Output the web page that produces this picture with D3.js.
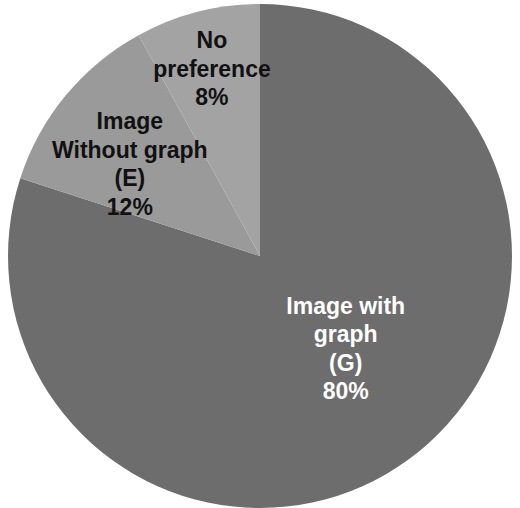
<!DOCTYPE html>
<html>
<head>
<meta charset="utf-8">
<script src="https://cdn.jsdelivr.net/npm/d3@7"></script>
<style>
html,body{margin:0;padding:0;background:#fff;}
svg{display:block;}
</style>
</head>
<body>
<svg id="chart" width="520" height="508"></svg>
<script>
const categories = ["Image with graph (G)", "Image Without graph (E)", "No preference"];
const values = [80, 12, 8];
const labelLines = [["Image with", "graph", "(G)", "80%"], ["Image", "Without graph", "(E)", "12%"], ["No", "preference", "8%"]];
const colors = ["#6d6d6d", "#9a9a9a", "#a3a3a3"];
const textColors = ["#ffffff", "#111111", "#111111"];

const W = 520, H = 508;
const cx = 260, cy = 256, r = 252;
const svg = d3.select("#chart");
const g = svg.append("g").attr("transform", `translate(${cx},${cy})`);

const pie = d3.pie().sort(null).value(d => d.v);
const data = pie(values.map((v, i) => ({v, i})));
const arc = d3.arc().innerRadius(0).outerRadius(r);

g.selectAll("path.slice").data(data).join("path")
  .attr("class", "slice")
  .attr("d", arc)
  .attr("fill", d => colors[d.data.i]);

// label placement: radius fraction and angle shift (radians) from slice mid-angle
const labelRadius = [0.5, 0.633, 0.767];
const labelShift = [-0.12, -0.075, 0.0];
const lineH = 28.5;
data.forEach(d => {
  const i = d.data.i;
  const mid = (d.startAngle + d.endAngle) / 2 + labelShift[i];
  const rr = r * labelRadius[i];
  const x = Math.sin(mid) * rr;
  const y = -Math.cos(mid) * rr;
  const lines = labelLines[i];
  const t = g.append("text")
    .attr("text-anchor", "middle")
    .attr("font-family", "Liberation Sans, Arial, sans-serif")
    .attr("font-weight", "bold")
    .attr("font-size", 23)
    .attr("fill", textColors[i]);
  lines.forEach((ln, k) => {
    t.append("tspan")
      .attr("x", x)
      .attr("y", y + (k - (lines.length - 1) / 2) * lineH)
      .attr("dy", "0.35em")
      .text(ln);
  });
});
</script>
</body>
</html>
